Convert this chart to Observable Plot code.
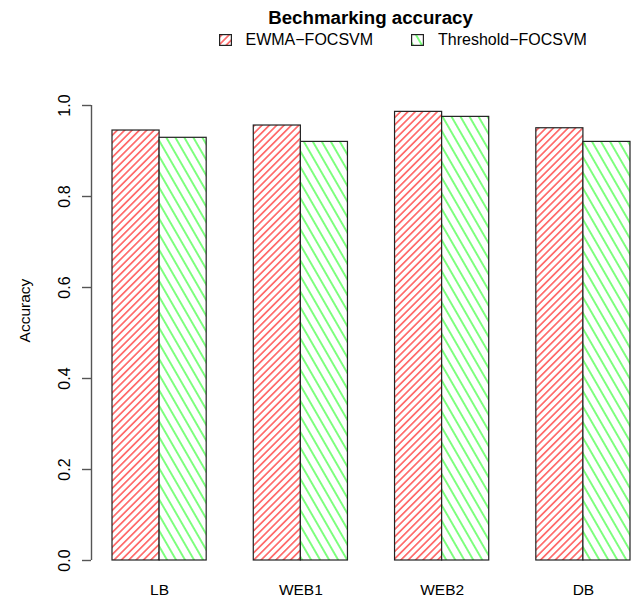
<!DOCTYPE html>
<html>
<head>
<meta charset="utf-8">
<script src="https://cdn.jsdelivr.net/npm/d3@7"></script>
<script src="https://cdn.jsdelivr.net/npm/@observablehq/plot@0.6"></script>
<style>
  body { margin: 0; background: #fff; }
  #wrap { position: relative; width: 633px; height: 601px; font-family: "Liberation Sans", Arial, Helvetica, sans-serif; color: #000; }
  #head { position: relative; width: 633px; height: 60px; }
  #title { position: absolute; left: 370.5px; top: 8.7px; transform: translateX(-50%); font-weight: bold; font-size: 18.7px; line-height: 1; white-space: nowrap; }
  .leg { position: absolute; top: 32.4px; font-size: 16px; line-height: 1; white-space: nowrap; }
  .sw { position: absolute; top: 34px; }
</style>
</head>
<body>
<div id="wrap">
  <div id="head"></div>
  <div id="chart"></div>
</div>
<script>
// ---- data ----
const groups = ["LB", "WEB1", "WEB2", "DB"];
const series = ["EWMA\u2212FOCSVM", "Threshold\u2212FOCSVM"];
const ewma = [0.945, 0.956, 0.986, 0.950];
const threshold = [0.929, 0.920, 0.975, 0.920];
const yTicks = [0, 0.2, 0.4, 0.6, 0.8, 1.0];
const titleText = "Bechmarking accuracy";
const yLabel = "Accuracy";

// ---- table ----
const values = [ewma, threshold];
const table = [];
groups.forEach((g, i) => {
  series.forEach((s, j) => {
    table.push({group: g, series: s, value: values[j][i], slot: i * 3 + j});
  });
});
const slotsTotal = groups.length * 3 - 1;
const xPad = 0.446;
const patternIds = ["hatch-red", "hatch-green"];

// ---- header (title + legend) ----
const head = document.getElementById("head");
const t = document.createElement("div");
t.id = "title";
t.textContent = titleText;
head.appendChild(t);
const legPos = [{sw: 218.5, tx: 245.5}, {sw: 410.5, tx: 438}];
series.forEach((s, j) => {
  const ns = "http://www.w3.org/2000/svg";
  const sv = document.createElementNS(ns, "svg");
  sv.setAttribute("class", "sw");
  sv.setAttribute("width", 13);
  sv.setAttribute("height", 12);
  sv.style.left = legPos[j].sw + "px";
  const r = document.createElementNS(ns, "rect");
  r.setAttribute("x", 0.6); r.setAttribute("y", 0.6);
  r.setAttribute("width", 11.8); r.setAttribute("height", 10.8);
  r.setAttribute("fill", `url(#${patternIds[j]})`);
  r.setAttribute("stroke", "#222");
  r.setAttribute("stroke-width", 1.2);
  sv.appendChild(r);
  head.appendChild(sv);
  const tx = document.createElement("div");
  tx.className = "leg";
  tx.style.left = legPos[j].tx + "px";
  tx.textContent = s;
  head.appendChild(tx);
});

// ---- plot ----
const svg = Plot.plot({
  width: 633,
  height: 541,
  marginTop: 45,
  marginBottom: 41,
  marginLeft: 91,
  marginRight: 3,
  style: {fontFamily: "'Liberation Sans', Arial, Helvetica, sans-serif", fontSize: "15.5px", color: "#000", background: "#fff"},
  x: {domain: [-xPad, slotsTotal]},
  y: {domain: [0, 1]},
  color: {domain: series, range: patternIds.map(id => `url(#${id})`)},
  marks: [
    Plot.rectY(table, {x1: "slot", x2: d => d.slot + 1, y: "value", fill: "series", stroke: "#222", strokeWidth: 1.2}),
    Plot.ruleX([-xPad], {y1: 0, y2: 1, stroke: "#555", strokeWidth: 1.4}),
    Plot.axisY(yTicks, {tickRotate: -90, tickSize: 9, tickPadding: 13, tickFormat: d3.format(".1f"), label: null, stroke: "#555", strokeWidth: 1.4, fontSize: 16}),
    Plot.axisX(groups.map((g, i) => i * 3 + 1), {tickFormat: d => groups[(d - 1) / 3], tickSize: 0, tickPadding: 23, label: null}),
    Plot.text([yLabel], {frameAnchor: "left", textAnchor: "middle", rotate: -90, dx: -62, dy: -22.5, lineAnchor: "bottom", fontSize: 15.5})
  ]
});

const defs = d3.select(svg).insert("defs", ":first-child");
function addPattern(id, color, spacing, angle) {
  const p = defs.append("pattern")
    .attr("id", id)
    .attr("patternUnits", "userSpaceOnUse")
    .attr("width", spacing)
    .attr("height", spacing)
    .attr("patternTransform", `rotate(${angle})`);
  p.append("rect").attr("width", spacing).attr("height", spacing).attr("fill", "#fff");
  p.append("line")
    .attr("x1", spacing / 2).attr("y1", -1)
    .attr("x2", spacing / 2).attr("y2", spacing + 1)
    .attr("stroke", color).attr("stroke-width", 1.0);
}
addPattern(patternIds[0], "#ff0000", 5.2, 45);
addPattern(patternIds[1], "#00ff00", 7.8, -30);

document.getElementById("chart").appendChild(svg);
</script>
</body>
</html>
